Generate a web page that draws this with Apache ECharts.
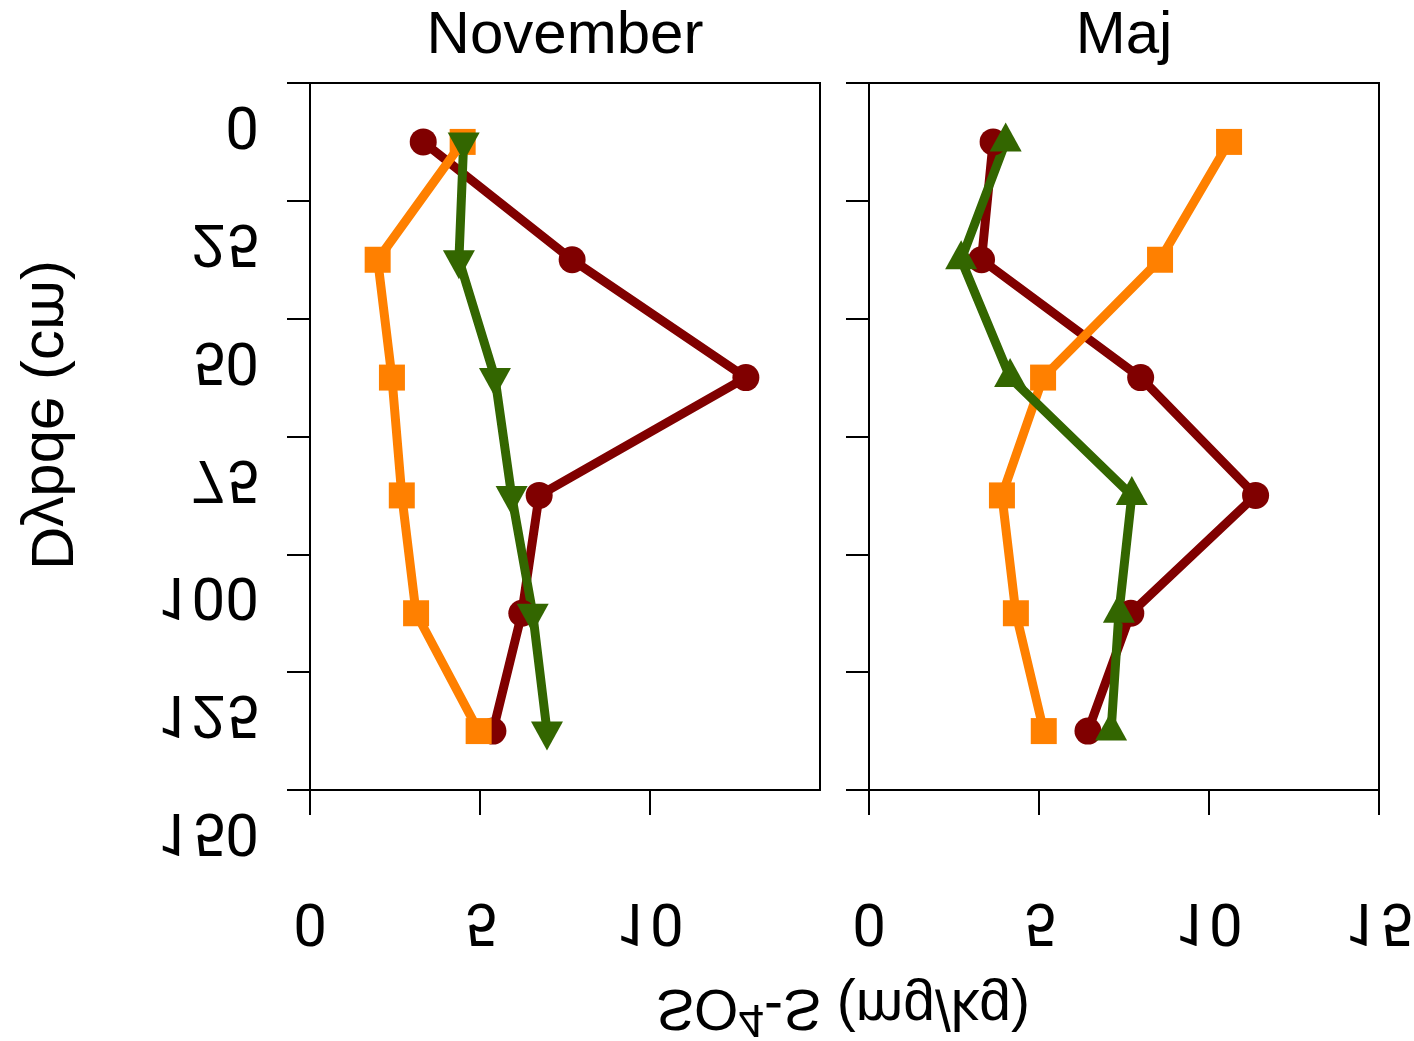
<!DOCTYPE html>
<html>
<head>
<meta charset="utf-8">
<script src="https://cdn.jsdelivr.net/npm/echarts@6/dist/echarts.min.js"></script>
<style>
  html, body { margin: 0; padding: 0; background: #ffffff; }
  #chart { width: 1414px; height: 1041px; }
</style>
</head>
<body>
<div id="chart"></div>
<script>
// Sampling depths (cm), mid-points of each soil layer
const depths = [12.5, 37.5, 62.5, 87.5, 112.5, 137.5];

// SO4-S (mg/kg), November
const novCircle   = [3.33, 7.71, 12.82, 6.74, 6.23, 5.38];
const novSquare   = [4.49, 1.99, 2.41, 2.70, 3.12, 4.96];
const novTriangle = [4.52, 4.38, 5.44, 5.93, 6.55, 6.97];

// SO4-S (mg/kg), Maj
const majCircle   = [3.65, 3.31, 7.99, 11.37, 7.70, 6.44];
const majSquare   = [10.59, 8.56, 5.12, 3.91, 4.32, 5.14];
const majTriangle = [4.02, 2.71, 4.15, 7.73, 7.35, 7.12];

// Texts and tick values
const panelTitles = ['November', 'Maj'];
const depthTicks = [0, 25, 50, 75, 100, 125, 150];
const novXTicks = [0, 5, 10];
const majXTicks = [0, 5, 10, 15];
const yTitle = 'Dybde (cm)';
const xTitleParts = ['SO', '4', '-S (mg/kg)'];

const FONT = '"Liberation Sans", Arial, Helvetica, sans-serif';
const NUM_FONT = 'Roboto, "Liberation Sans", Arial, sans-serif';
const RED = '#800000', ORANGE = '#ff8000', GREEN = '#336600';
const LINE_W = 9;

function pairs(xs) { return xs.map((x, i) => [x, depths[i]]); }

function profile(idx, xs, color, symbol, size, rotate, offset) {
  return {
    type: 'line',
    xAxisIndex: idx, yAxisIndex: idx,
    data: pairs(xs),
    symbol: symbol,
    symbolSize: size,
    symbolRotate: rotate,
    symbolOffset: offset,
    showSymbol: true,
    showAllSymbol: true,
    silent: true,
    lineStyle: { color: color, width: LINE_W, cap: 'round', join: 'round' },
    itemStyle: { color: color, borderWidth: 0 },
    animation: false
  };
}

const axisLineStyle = { color: '#000', width: 2 };

function xAxisFor(idx, ticks) {
  return {
    gridIndex: idx, type: 'value', min: 0, max: 15, interval: 5,
    axisLine: { show: true, onZero: false, lineStyle: axisLineStyle },
    axisTick: { show: true, length: 25, inside: false, lineStyle: axisLineStyle, customValues: ticks },
    axisLabel: { show: false, customValues: ticks },
    splitLine: { show: false }
  };
}
function yAxisFor(idx) {
  return {
    gridIndex: idx, type: 'value', inverse: true, min: 0, max: 150, interval: 25,
    axisLine: { show: true, onZero: false, lineStyle: axisLineStyle },
    axisTick: { show: true, length: 23, inside: false, lineStyle: axisLineStyle },
    axisLabel: { show: false },
    splitLine: { show: false }
  };
}

const gridBox = { top: 83, width: 510, height: 707, show: true, borderColor: '#000', borderWidth: 2, backgroundColor: 'transparent' };

const option = {
  animation: false,
  backgroundColor: '#ffffff',
  grid: [
    Object.assign({ left: 310 }, gridBox),
    Object.assign({ left: 869 }, gridBox)
  ],
  xAxis: [xAxisFor(0, novXTicks), xAxisFor(1, majXTicks)],
  yAxis: [yAxisFor(0), yAxisFor(1)],
  series: [
    profile(0, novCircle, RED, 'circle', 27, 0, [0, 0]),
    profile(0, novSquare, ORANGE, 'rect', 26, 0, [0, 0]),
    profile(0, novTriangle, GREEN, 'triangle', [32, 29], 180, [0, 5]),
    profile(1, majCircle, RED, 'circle', 27, 0, [0, 0]),
    profile(1, majSquare, ORANGE, 'rect', 26, 0, [0, 0]),
    profile(1, majTriangle, GREEN, 'triangle', [32, 29], 0, [0, -5])
  ]
};

const chart = echarts.init(document.getElementById('chart'), null, { renderer: 'canvas' });
chart.setOption(option);

// Text helper: optionally mirrored vertically about its own middle line
function textEl(x, y, text, align, flip, rotation, extra) {
  const style = Object.assign({
    text: text, fontSize: 60, fontFamily: FONT, fill: '#000',
    align: align, textAlign: align,
    verticalAlign: 'middle', textVerticalAlign: 'middle'
  }, extra || {});
  return {
    type: 'text', x: x, y: y, silent: true,
    scaleY: flip ? -1 : 1,
    rotation: rotation || 0,
    style: style
  };
}

const graphics = [];

// Panel titles centred over each plot box
panelTitles.forEach((t, i) => {
  const cx = chart.convertToPixel({ xAxisIndex: i }, 7.5);
  graphics.push(textEl(cx, 36.5, t, 'center', false, 0));
});

// Depth tick labels on the left panel (mirrored)
depthTicks.forEach(v => {
  const py = chart.convertToPixel({ yAxisIndex: 0 }, v);
  graphics.push(textEl(259, py + 39, String(v), 'right', true, 0, { fontFamily: NUM_FONT }));
});

// Concentration tick labels under each panel (mirrored)
[novXTicks, majXTicks].forEach((ticks, i) => {
  ticks.forEach(v => {
    const px = chart.convertToPixel({ xAxisIndex: i }, v);
    graphics.push(textEl(px, 919, String(v), 'center', true, 0, { fontFamily: NUM_FONT }));
  });
});

// Axis titles (mirrored)
graphics.push(textEl(49, 415, yTitle, 'center', true, Math.PI / 2));
graphics.push(textEl(843, 1006,
  '{m|' + xTitleParts[0] + '}{s|' + xTitleParts[1] + '}{m|' + xTitleParts[2] + '}',
  'center', true, 0, {
    rich: {
      m: { fontSize: 57, fontFamily: FONT, fill: '#000', lineHeight: 70, verticalAlign: 'middle' },
      s: { fontSize: 46, fontFamily: FONT, fill: '#000', lineHeight: 46, verticalAlign: 'top' }
    }
  }));

chart.setOption({ graphic: graphics });
</script>
</body>
</html>
